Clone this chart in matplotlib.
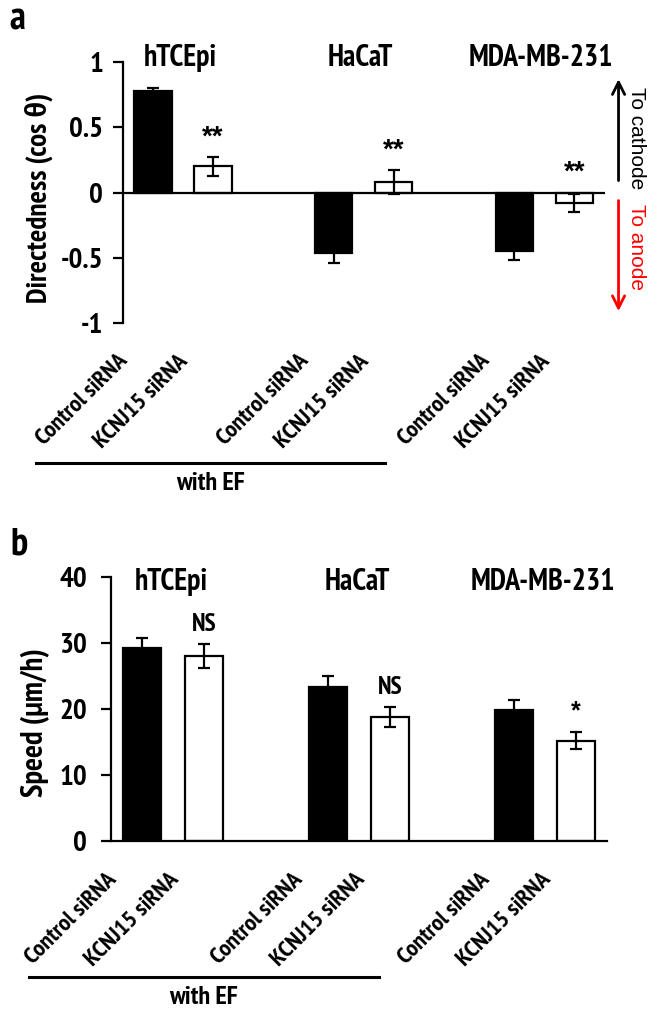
import matplotlib
matplotlib.use("Agg")
import matplotlib.pyplot as plt
import matplotlib.transforms as mtransforms
from matplotlib import font_manager
import numpy as np


def _is_bold(w):
    return w in (700, "bold") or (isinstance(w, int) and w >= 650)


bold_fonts = {f.name for f in font_manager.fontManager.ttflist if _is_bold(f.weight)}
narrow_candidates = ["Liberation Sans Narrow", "Arial Narrow", "Archivo Narrow",
                     "PT Sans Narrow", "Roboto Condensed", "Fira Sans Condensed",
                     "IBM Plex Sans Condensed", "Asap Condensed", "Encode Sans Condensed",
                     "Sofia Sans Condensed", "Barlow Semi Condensed", "Pragati Narrow"]
narrow = [n for n in narrow_candidates if n in bold_fonts][:1]
plt.rcParams["font.family"] = narrow + ["Liberation Sans", "DejaVu Sans"]
plt.rcParams["font.weight"] = "bold"
plt.rcParams["axes.labelweight"] = "bold"
fs = 1.0 if narrow else 0.85
plain = ["Liberation Sans", "DejaVu Sans"]

# data
cell_lines = ["hTCEpi", "HaCaT", "MDA-MB-231"]
conditions = ["Control siRNA", "KCNJ15 siRNA"]
positions = [0, 1, 3, 4, 6, 7]
bar_colors = ["black", "white", "black", "white", "black", "white"]

directedness = [0.78, 0.20, -0.46, 0.08, -0.45, -0.08]
directedness_err = [0.02, 0.07, 0.08, 0.09, 0.07, 0.07]
directedness_sig = ["", "**", "", "**", "", "**"]

speed = [29.2, 28.0, 23.3, 18.8, 19.8, 15.2]
speed_err = [1.6, 1.8, 1.7, 1.5, 1.6, 1.3]
speed_sig = ["", "NS", "", "NS", "", "*"]

fig = plt.figure(figsize=(6.6, 10.16), dpi=100)
ax_a = fig.add_axes([0.186, 0.682, 0.730, 0.257])
ax_b = fig.add_axes([0.168, 0.172, 0.752, 0.260])

group_x = [np.mean(positions[i * 2:i * 2 + 2]) for i in range(len(cell_lines))]
label_offset = mtransforms.ScaledTranslation(-0.28, -0.35, fig.dpi_scale_trans)


def style_axes(ax):
    for side in ["top", "right", "bottom"]:
        ax.spines[side].set_visible(False)
    ax.spines["left"].set_linewidth(1.6)
    ax.tick_params(axis="y", direction="out", length=7, width=1.6,
                   labelsize=21 * fs, pad=7)
    ax.tick_params(axis="x", bottom=False, labelbottom=False)
    ax.set_xlim(-0.5, 7.5)


def draw_bars(ax, vals, errs):
    ax.bar(positions, vals, width=0.62, color=bar_colors, edgecolor="black",
           linewidth=1.6, zorder=2)
    ax.errorbar(positions, vals, yerr=errs, fmt="none", ecolor="black",
                elinewidth=1.6, capsize=4, capthick=1.6, zorder=3)


def draw_categories(ax, line_x, line_y, text_y):
    tr = ax.get_xaxis_transform()
    for i, p in enumerate(positions):
        ax.text(p, 0, conditions[i % 2], transform=tr + label_offset,
                rotation=45, rotation_mode="anchor", ha="right", va="center",
                fontsize=17.5 * fs, clip_on=False)
    ax.plot(line_x, [line_y, line_y], color="black", lw=2.2, transform=tr,
            clip_on=False)
    ax.text(np.mean(line_x), text_y, "with EF", transform=tr, ha="center",
            va="center", fontsize=19 * fs)


# panel a
style_axes(ax_a)
draw_bars(ax_a, directedness, directedness_err)
ax_a.axhline(0, color="black", lw=1.6, zorder=4)
ax_a.set_ylim(-1, 1)
ax_a.set_yticks([-1, -0.5, 0, 0.5, 1])
ax_a.set_yticklabels(["-1", "-0.5", "0", "0.5", "1"])
ax_a.set_ylabel("Directedness (cos θ)", fontsize=21 * fs, fontweight="bold")
ax_a.yaxis.set_label_coords(-0.145, 0.48)
for v, e, s, p in zip(directedness, directedness_err, directedness_sig, positions):
    if s:
        ax_a.text(p, max(v + e, 0) + 0.05, s, ha="center", va="bottom",
                  fontsize=20 * fs, family=plain)
for x, name in zip(group_x, cell_lines):
    ax_a.text(x - 0.05, 1.015, name, transform=ax_a.get_xaxis_transform(),
              ha="center", va="center", fontsize=21.5 * fs)
draw_categories(ax_a, [-1.94, 3.86], -0.536, -0.613)

ab = ax_a.get_yaxis_transform()
ax_a.annotate("", xy=(1.029, 0.89), xytext=(1.029, 0.07), xycoords=ab,
              textcoords=ab, arrowprops=dict(arrowstyle="->", lw=2, color="black",
                                             mutation_scale=22))
ax_a.annotate("", xy=(1.029, -0.93), xytext=(1.029, -0.04), xycoords=ab,
              textcoords=ab, arrowprops=dict(arrowstyle="->", lw=2, color="red",
                                             mutation_scale=22))
ax_a.text(1.066, 0.42, "To cathode", transform=ab, rotation=-90, ha="center",
          va="center", fontsize=15, fontweight="normal", family=plain)
ax_a.text(1.066, -0.42, "To anode", transform=ab, rotation=-90, ha="center",
          va="center", fontsize=15, fontweight="normal", family=plain, color="red")

# panel b
style_axes(ax_b)
ax_b.spines["bottom"].set_visible(True)
ax_b.spines["bottom"].set_linewidth(1.6)
draw_bars(ax_b, speed, speed_err)
ax_b.set_ylim(0, 40)
ax_b.set_yticks([0, 10, 20, 30, 40])
ax_b.tick_params(axis="y", pad=10)
ax_b.set_ylabel("Speed (μm/h)", fontsize=22 * fs, fontweight="bold")
ax_b.yaxis.set_label_coords(-0.123, 0.45)
for v, e, s, p in zip(speed, speed_err, speed_sig, positions):
    if s:
        ax_b.text(p, v + e + 1.3, s, ha="center", va="bottom", fontsize=18 * fs,
                  family=plain if s == "*" else None)
for x, name in zip(group_x, cell_lines):
    ax_b.text(x - 0.03, 0.98, name, transform=ax_b.get_xaxis_transform(),
              ha="center", va="center", fontsize=21.5 * fs)
draw_categories(ax_b, [-1.82, 3.82], -0.515, -0.59)

fig.text(0.027, 0.980, "a", fontsize=28, ha="center", va="center")
fig.text(0.029, 0.464, "b", fontsize=28, ha="center", va="center")

fig.savefig("out.png", dpi=100)
